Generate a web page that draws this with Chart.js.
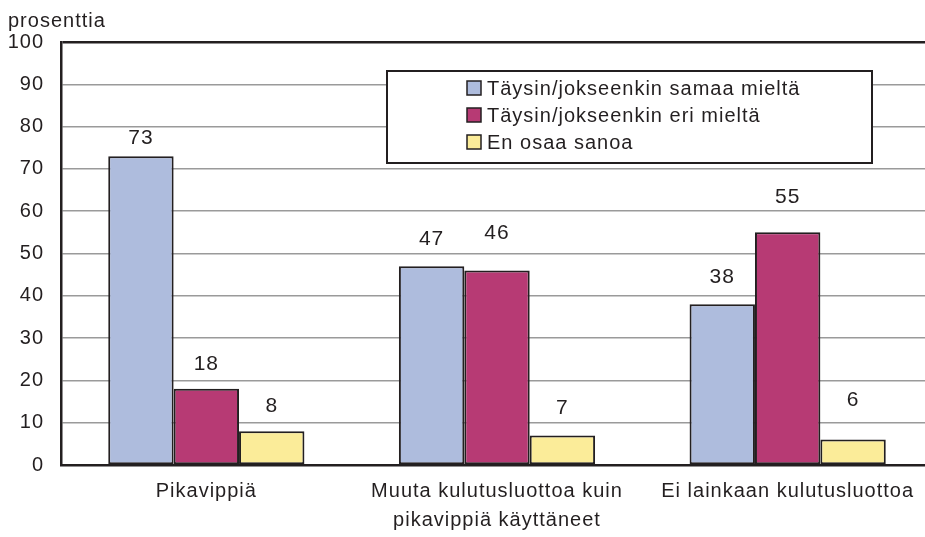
<!DOCTYPE html>
<html>
<head>
<meta charset="utf-8">
<script src="https://cdn.jsdelivr.net/npm/chart.js@4"></script>
<style>
  html, body { margin: 0; padding: 0; background: #fff; overflow: hidden; }
  #wrap { width: 933px; height: 537px; }
</style>
</head>
<body>
<div id="wrap"><canvas id="chart"></canvas></div>
<script>
// data
const categories = ['Pikavippiä', ['Muuta kulutusluottoa kuin', 'pikavippiä käyttäneet'], 'Ei lainkaan kulutusluottoa'];
const seriesNames = ['Täysin/jokseenkin samaa mieltä', 'Täysin/jokseenkin eri mieltä', 'En osaa sanoa'];
const agree = [73, 47, 38];
const disagree = [18, 46, 55];
const dontKnow = [8, 7, 6];
const yTicks = [0, 10, 20, 30, 40, 50, 60, 70, 80, 90, 100];

const colors = ['#aebcdd', '#b73a74', '#fbec99'];
const dark = '#231f20';
const FONT = '"Liberation Sans", Arial, sans-serif';
const SPACING = '1px';
// value labels were placed by hand in the original, gap above bar top (px)
const labelGap = [[18, 27, 27], [25, 37, 35], [25, 27, 39]];

// the original type is set a bit loose
const spacing = {
  id: 'spacing',
  beforeUpdate(chart) { chart.ctx.letterSpacing = SPACING; },
  beforeDraw(chart) { chart.ctx.letterSpacing = SPACING; }
};

// value labels above each bar
const valueLabels = {
  id: 'valueLabels',
  afterDatasetsDraw(chart) {
    const ctx = chart.ctx;
    ctx.save();
    ctx.font = '21px ' + FONT;
    ctx.fillStyle = dark;
    ctx.textAlign = 'center';
    ctx.textBaseline = 'middle';
    chart.data.datasets.forEach((ds, i) => {
      chart.getDatasetMeta(i).data.forEach((bar, j) => {
        ctx.fillText(String(ds.data[j]), bar.x, bar.y - labelGap[i][j]);
      });
    });
    ctx.restore();
  }
};

// boxed legend inside the plot
const boxLegend = {
  id: 'boxLegend',
  afterDraw(chart) {
    const ctx = chart.ctx;
    ctx.save();
    ctx.fillStyle = '#fff';
    ctx.fillRect(387, 71, 485, 92);
    ctx.strokeStyle = dark;
    ctx.lineWidth = 2;
    ctx.strokeRect(387, 71, 485, 92);
    ctx.font = '20px ' + FONT;
    ctx.textBaseline = 'middle';
    chart.data.datasets.forEach((ds, i) => {
      const y = 88 + i * 27;
      ctx.fillStyle = ds.backgroundColor;
      ctx.fillRect(467, y - 7, 14, 14);
      ctx.lineWidth = 1.5;
      ctx.strokeStyle = dark;
      ctx.strokeRect(467, y - 7, 14, 14);
      ctx.fillStyle = dark;
      ctx.textAlign = 'left';
      ctx.fillText(ds.label, 487, y + 1);
    });
    // unit label
    ctx.font = '20px ' + FONT;
    ctx.textBaseline = 'alphabetic';
    ctx.fillText('prosenttia', 8, 27);
    ctx.restore();
  }
};

const seriesData = [agree, disagree, dontKnow];

new Chart(document.getElementById('chart'), {
  type: 'bar',
  data: {
    labels: categories,
    datasets: seriesNames.map((name, i) => ({
      label: name,
      data: seriesData[i],
      backgroundColor: colors[i],
      borderColor: dark,
      borderWidth: 2,
      borderSkipped: false,
      barPercentage: 1,
      categoryPercentage: 0.675
    }))
  },
  options: {
    responsive: true,
    maintainAspectRatio: false,
    animation: false,
    layout: { padding: { top: 42, left: 0, right: 0, bottom: 0 } },
    plugins: { legend: { display: false }, tooltip: { enabled: false } },
    scales: {
      x: {
        grid: { display: false },
        border: { color: dark, width: 2.5 },
        ticks: { color: dark, font: { family: FONT, size: 20, lineHeight: 1.45 }, padding: 4, maxRotation: 0, autoSkip: false },
        afterFit(s) { s.height = 72; }
      },
      y: {
        min: 0,
        max: 100,
        afterBuildTicks(s) { s.ticks = yTicks.map(v => ({ value: v })); },
        grid: {
          drawTicks: false,
          color: c => c.tick.value === 100 ? dark : '#9a9a9a',
          lineWidth: c => c.tick.value === 100 ? 2.5 : 1.5
        },
        border: { color: dark, width: 2.5 },
        ticks: { color: dark, font: { family: FONT, size: 20 }, padding: 17 },
        afterFit(s) { s.width = 61; }
      }
    }
  },
  plugins: [spacing, valueLabels, boxLegend]
});
</script>
</body>
</html>
